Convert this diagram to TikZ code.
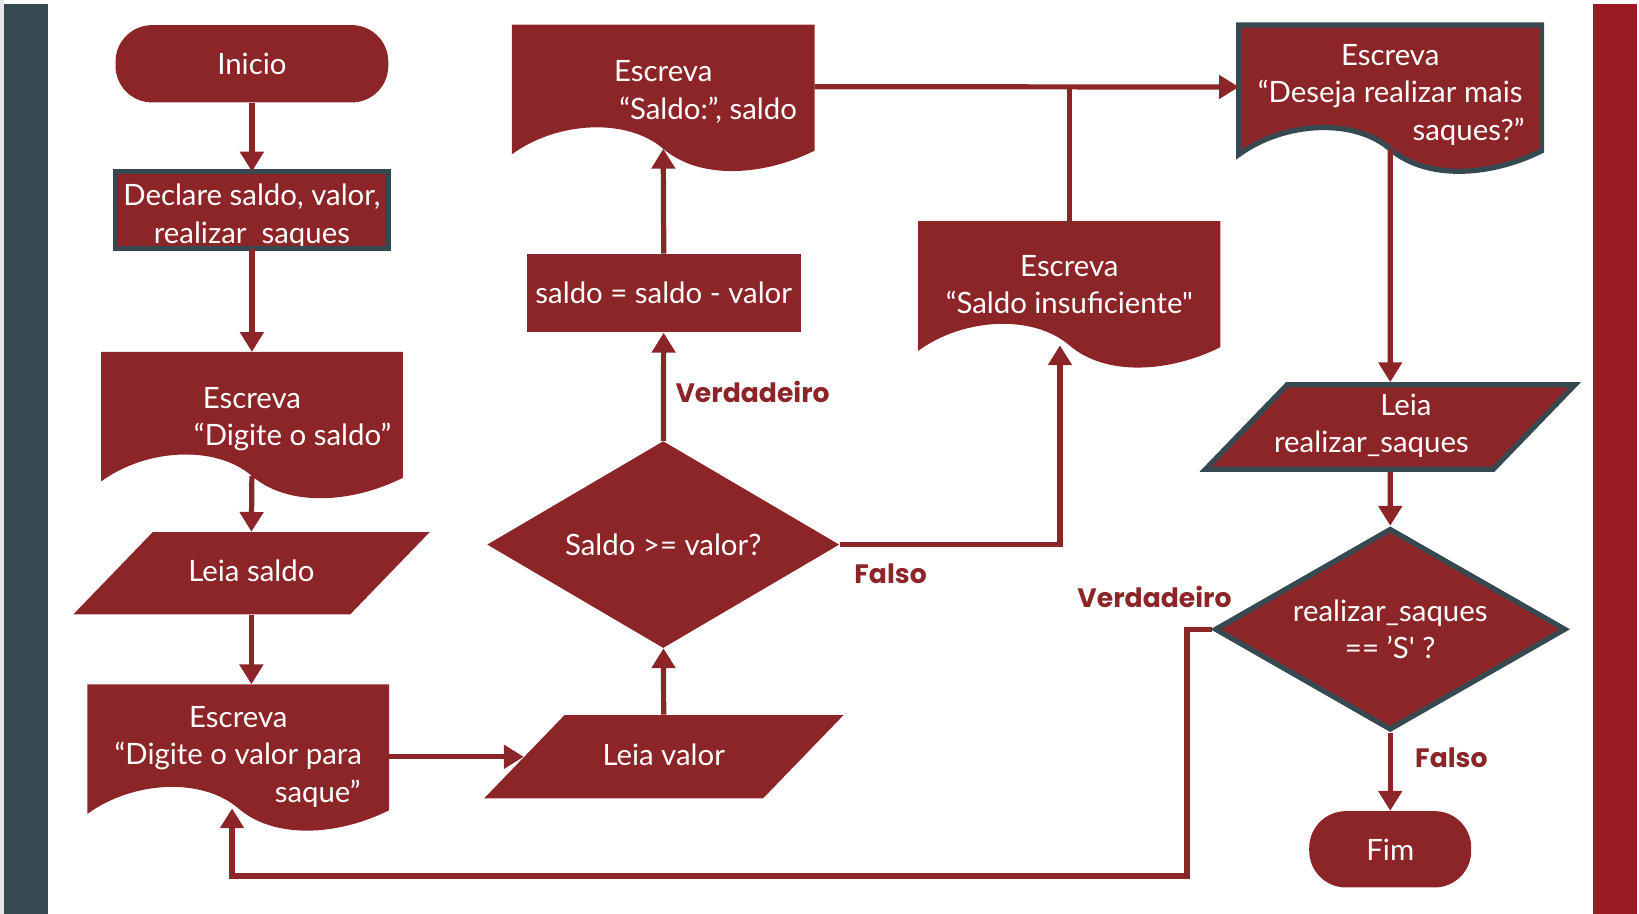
\documentclass[tikz,border=0pt]{standalone}
\usepackage{fontspec}
\newfontfamily\fonte{Lato}
\newfontfamily\fonterotulo{Poppins}
\usetikzlibrary{shapes.geometric,arrows.meta,calc}
\pgfdeclarelayer{fundo}
\pgfsetlayers{fundo,main}

\definecolor{vinho}{HTML}{8C2528}
\definecolor{ardosia}{HTML}{374950}
\definecolor{vermelho}{HTML}{9B1B22}
\definecolor{cinzaclaro}{HTML}{E6E6E6}

\tikzset{
  base/.style={fill=vinho, text=white, inner sep=0pt, align=center},
  terminal/.style={base, rectangle, rounded corners=0.7cm},
  processo/.style={base, rectangle},
  leitura/.style={base, trapezium, trapezium left angle=46, trapezium right angle=134, trapezium stretches body=true,
    text height=12pt, text depth=3pt, inner ysep=15pt},
  decisao/.style={base, diamond, aspect=1.75},
  documento/.style={rectangle, text=white, inner sep=0pt, align=center},
  contorno/.style={draw=ardosia, line width=0.1cm},
  linha/.style={draw=vinho, line width=0.1cm},
  seta/.style={linha, -{Triangle[width=0.44cm,length=0.38cm]}},
  rotulo/.style={text=vinho, font=\fonterotulo\bfseries\fontsize{14.5}{17}\selectfont}
}

% fundo ondulado dos blocos "Escreva"
\newcommand{\onda}[2][]{%
  \begin{pgfonlayer}{fundo}
    \path[fill=vinho,#1] let \p1=(#2.north west), \p2=(#2.south east), \n1={\x2-\x1} in
      (\x1,\y1) -- (\x2,\y1) -- (\x2,\y2-1pt)
      .. controls (\x2-0.17*\n1,\y2-15pt) and (\x1+0.62*\n1,\y2-17pt) .. (\x1+0.5*\n1,\y2)
      .. controls (\x1+0.38*\n1,\y2+17pt) and (\x1+0.15*\n1,\y2+15pt) .. (\x1,\y2-3pt) -- cycle;
  \end{pgfonlayer}}
% desce o texto dentro do bloco
\newcommand{\desce}[1]{\rule{0pt}{#1}}

\begin{document}
\begin{tikzpicture}[x=0.02cm, y=-0.02cm, font=\fonte\fontsize{16}{20.5}\selectfont]

\useasboundingbox (0,0) rectangle (1568,874.4);

% faixas laterais
\fill[cinzaclaro] (0,0) rectangle (4,874.4);
\fill[ardosia] (4,4) rectangle (46,874.4);
\fill[vermelho] (1524,4) rectangle (1566,874.4);

% coluna 1
\node[terminal, minimum width=5.22cm, minimum height=1.48cm] (inicio) at (241,61) {Inicio};
\node[processo, minimum width=5.22cm, minimum height=1.46cm, text depth=0pt] (declare) at (241,201) {\desce{16pt}Declare saldo, valor,\\realizar\ \ saques};
\draw[contorno] (declare.south west) rectangle (declare.north east);
\node[documento, minimum width=5.76cm, minimum height=2.36cm] (digsaldo) at (241,396) {\desce{17pt}Escreva\\\hspace*{1.56cm}“Digite o saldo”};
\onda{digsaldo}
\node[leitura, minimum width=6.82cm, inner ysep=14.9pt] (leiasaldo) at (240.5,548.5) {Leia saldo};
\node[documento, minimum width=5.76cm, minimum height=2.36cm] (digvalor) at (228,714) {\desce{23pt}Escreva\\“Digite o valor para\\\hspace*{3.04cm}saque”};
\onda{digvalor}

% coluna 2
\node[leitura, minimum width=6.88cm, inner ysep=15.2pt] (leiavalor) at (635,724) {Leia valor};
\node[decisao, minimum width=6.74cm, minimum height=3.96cm] (teste) at (634.5,521) {Saldo >= valor?};
\node[processo, minimum width=5.24cm, minimum height=1.5cm] (conta) at (635,280.5) {saldo = saldo - valor};
\node[documento, minimum width=5.78cm, minimum height=2.36cm] (mostra) at (634.5,83) {\desce{17pt}Escreva\\\hspace*{1.72cm}“Saldo:”, saldo};
\onda{mostra}

% coluna 3
\node[documento, minimum width=5.77cm, minimum height=2.36cm] (insuf) at (1023,271) {\desce{13pt}Escreva\\“Saldo insuficiente"};
\onda{insuf}

% coluna 4
\node[documento, minimum width=5.78cm, minimum height=2.36cm] (deseja) at (1330,83.2) {\desce{20pt}Escreva\\“Deseja realizar mais\\\hspace*{3cm}saques?”};
\onda[contorno]{deseja}
\node[leitura, contorno, minimum width=6.93cm, text height=32.5pt, text depth=4.5pt, inner ysep=4.5pt, inner xsep=-0.25cm] (leiamais) at (1330,408.5) {\hspace*{0.6cm}Leia\\realizar\_saques\hspace{0.72cm}\mbox{}};
\node[decisao, contorno, minimum width=6.72cm, minimum height=3.86cm] (teste2) at (1330,602) {realizar\_saques\\== ’S' ?};
\node[terminal, minimum width=3.1cm, minimum height=1.46cm] (fim) at (1330,812.5) {Fim};

% rotulos
\node[rotulo] (sim1) at (720,375) {Verdadeiro};
\node[rotulo] (nao1) at (852,549) {Falso};
\node[rotulo] (sim2) at (1104.5,571) {Verdadeiro};
\node[rotulo] (nao2) at (1388.5,725) {Falso};

% ligacoes
\draw[seta] (inicio) -- (declare);
\draw[seta] (declare) -- (digsaldo);
\draw[seta] (digsaldo.south) -- (leiasaldo.north);
\draw[seta] (leiasaldo.south) -- (leiasaldo.south |- digvalor.north);
\draw[seta] (digvalor.east |- leiavalor.west) -- (leiavalor.west);
\draw[seta] (leiavalor) -- (teste);
\draw[seta] (teste) -- (conta);
\draw[seta] (conta.north) -- (mostra.south);
\draw[seta] (teste.east) -| ([xshift=-0.18cm]insuf.south);
\draw[seta] (mostra.east) -- (deseja.west);
\draw[linha] (insuf.north) -- (insuf.north |- mostra.east);
\draw[seta] (deseja.south) -- (leiamais.north);
\draw[seta] (leiamais) -- (teste2);
\draw[seta] (teste2) -- (fim);
\coordinate (retorno) at (222,838);
\draw[seta] (teste2.west) -- ++(-24,0) |- (retorno) -- (retorno |- digvalor.south);

\end{tikzpicture}
\end{document}
